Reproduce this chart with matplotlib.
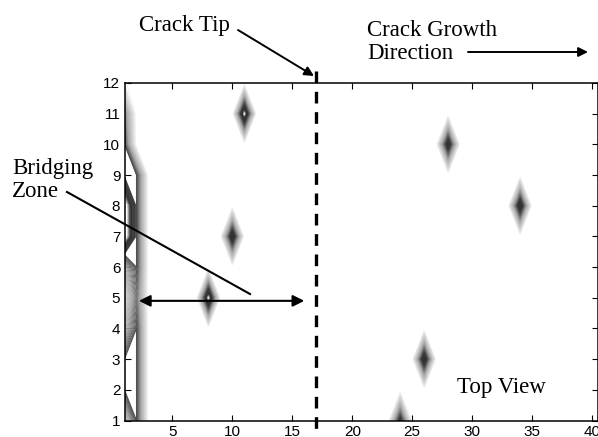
import numpy as np
import matplotlib
matplotlib.use("Agg")
import matplotlib.pyplot as plt
from matplotlib.colors import LinearSegmentedColormap

# grid of the top view (crack length x width positions)
x_pos = np.arange(1, 41)
y_pos = np.arange(1, 13)

# isolated damage peaks ahead of / behind the tip
spike_x = [8, 10, 11, 24, 26, 28, 34]
spike_y = [5, 7, 11, 1, 3, 10, 8]
spike_h = [1.5, 1.35, 1.5, 1.2, 1.35, 1.3, 1.35]

# first two columns: bridged region at the notch side
bridge_col1 = [0.4, 1.0, 1.0, 0.55, 0.25, 0.6, 1.6, 1.6, 1.0, 1.0, 0.8, 0.12]
bridge_col2 = [1.0, 1.0, 1.0, 1.0, 0.85, 1.0, 1.0, 1.0, 1.0, 0.0, 0.0, 0.0]

crack_tip_x = 17
bridge_start, bridge_end, bridge_y = 2.2, 16.0, 4.9

x_ticks = [5, 10, 15, 20, 25, 30, 35, 40]
y_ticks = list(range(1, 13))

Z = np.zeros((len(y_pos), len(x_pos)))
Z[:, 0] = bridge_col1
Z[:, 1] = bridge_col2
for xs, ys, h in zip(spike_x, spike_y, spike_h):
    Z[ys - 1, xs - 1] = h

cmap = LinearSegmentedColormap.from_list(
    "gr", [(0.0, "#f2f2f2"), (0.4, "#a8a8a8"), (0.7, "#3a3a3a"),
           (0.88, "#303030"), (1.0, "#ffffff")])

fig = plt.figure(figsize=(5.98, 4.37), dpi=100)
ax = fig.add_axes([124.5 / 598, 16.5 / 437, 1 - 124.5 / 598, (420.5 - 83) / 437])

levels = np.linspace(0.1, 1.5, 40)
ax.contour(x_pos, y_pos, Z, levels=levels, cmap=cmap, linewidths=0.8)

ax.set_xlim(1, 40.5)
ax.set_ylim(1, 12)
ax.set_xticks(x_ticks)
ax.set_yticks(y_ticks)
ax.tick_params(direction="in", top=True, right=True, length=4, width=0.8,
               labelsize=11, pad=3)
for lab in ax.get_xticklabels() + ax.get_yticklabels():
    lab.set_family("Liberation Sans")
for sp in ax.spines.values():
    sp.set_linewidth(1.1)

# crack tip marker
ax.plot([crack_tip_x, crack_tip_x], [12.39, 0.45], color="black", lw=2.4,
        ls=(0, (3.5, 2.6)), clip_on=False, zorder=5)

# bridging zone extent
ax.annotate("", xy=(bridge_start, bridge_y), xytext=(bridge_end, bridge_y),
            arrowprops=dict(arrowstyle="<|-|>", color="black", lw=1.5,
                            mutation_scale=17, shrinkA=0, shrinkB=0))

serif = dict(family="Liberation Serif", fontsize=16.5, color="black")
H = 437

fig.text(139 / 598, 1 - 25 / H, "Crack Tip", ha="left", va="center", **serif)
fig.text(367 / 598, 1 - 42 / H, "Crack Growth\nDirection", ha="left",
         va="center", linespacing=1.12, **serif)
fig.text(12 / 598, 1 - 180 / H, "Bridging\nZone", ha="left", va="center",
         linespacing=1.12, **serif)
fig.text(457 / 598, 1 - 388 / H, "Top View", ha="left", va="center", **serif)

head = dict(arrowstyle="-|>", color="black", lw=1.4, mutation_scale=14,
            shrinkA=0, shrinkB=0)
fig_ax = fig.add_axes([0, 0, 1, 1], facecolor="none")
fig_ax.set_axis_off()
fig_ax.set_xlim(0, 598)
fig_ax.set_ylim(437, 0)
fig_ax.annotate("", xy=(314, 76), xytext=(238, 30), arrowprops=head)
fig_ax.annotate("", xy=(588, 52), xytext=(468, 52), arrowprops=head)
fig_ax.plot([67, 192][0:1] + [250], [192, 294], color="black", lw=1.5)

fig.savefig("out.png", dpi=100)
